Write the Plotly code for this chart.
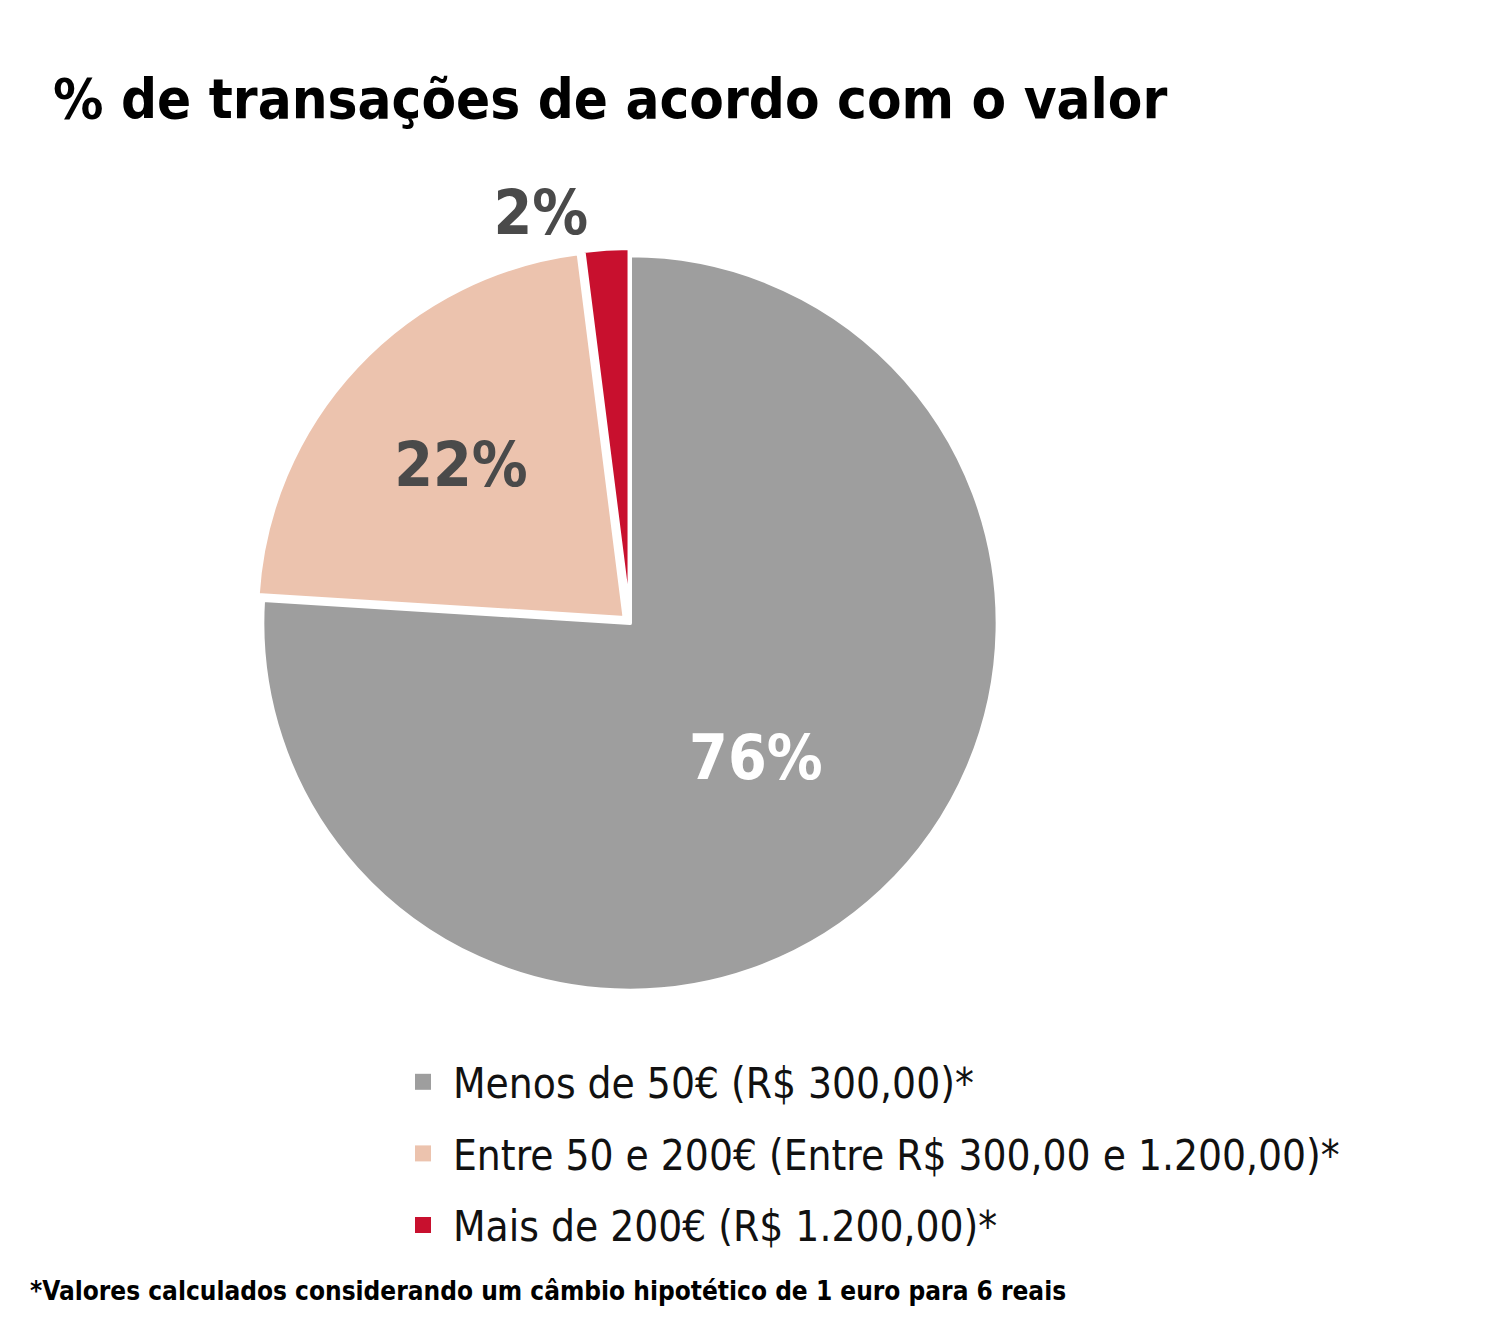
import plotly.graph_objects as go

labels = ["Menos de 50€ (R$ 300,00)*", "Entre 50 e 200€ (Entre R$ 300,00 e 1.200,00)*", "Mais de 200€ (R$ 1.200,00)*"]
values = [76, 22, 2]
colors = ["#9e9e9e", "#ecc3ae", "#c8102e"]
text_colors = ["white", "#4a4a4a", "#4a4a4a"]
positions = ["inside", "inside", "outside"]

FONT = "DejaVu Sans Condensed, DejaVu Sans"
W, H = 1503, 1320
fig = go.Figure(go.Pie(
    labels=labels, values=values, sort=False, direction="clockwise", rotation=0,
    marker=dict(colors=colors, line=dict(color="white", width=4)),
    pull=[0, 0.02, 0.02],
    texttemplate="<b>%{value}%</b>", textposition=positions,
    insidetextorientation="horizontal",
    textfont=dict(family=FONT, size=62, color=text_colors),
    outsidetextfont=dict(family=FONT, size=62, color="#4a4a4a"),
    domain=dict(x=[(622-375)/W, (622+375)/W], y=[1-990/H, 1-240/H]),
    hoverinfo="skip", showlegend=False,
))
for lab, col in zip(labels, colors):
    fig.add_trace(go.Scatter(x=[None], y=[None], mode="markers", name=lab,
                             marker=dict(symbol="square", size=34, color=col)))
fig.update_layout(
    width=W, height=H, margin=dict(l=0, r=0, t=0, b=0),
    paper_bgcolor="white", plot_bgcolor="white",
    xaxis=dict(visible=False), yaxis=dict(visible=False),
    font=dict(family=FONT, color="black"),
    title=dict(text="<b>% de transações de acordo com o valor</b>", x=45/W, xanchor="left",
               y=1-90/H, yanchor="middle", font=dict(size=56, color="black")),
    legend=dict(x=385/W, y=1-1040/H, xanchor="left", yanchor="top",
                font=dict(size=42, color="#111"), itemwidth=50, tracegroupgap=14),
    annotations=[dict(text="<b>*Valores calculados considerando um câmbio hipotético de 1 euro para 6 reais</b>",
                      x=20/W, y=1-1283/H, xref="paper", yref="paper", xanchor="left", yanchor="middle",
                      showarrow=False, font=dict(size=26, color="black"))],
)
fig.for_each_trace(lambda t: None)
fig.update_layout(legend_title_text="")
fig.data[1].update(legendgroup="a")
fig.write_html("out.html")
